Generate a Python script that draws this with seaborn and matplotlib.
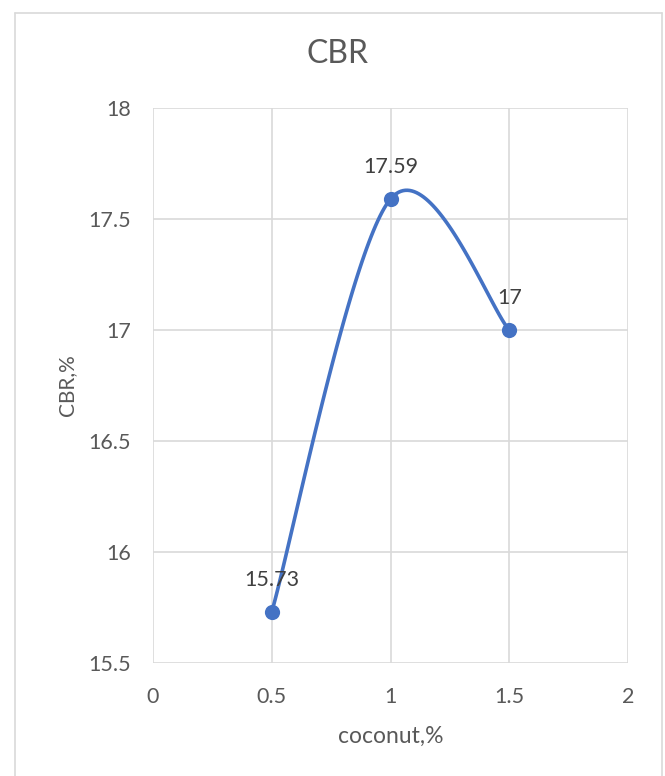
import numpy as np
import pandas as pd
import matplotlib
matplotlib.use("Agg")
import matplotlib.pyplot as plt
import seaborn as sns
from matplotlib.lines import Line2D

# ---- data ----
coconut = [0.5, 1.0, 1.5]
cbr = [15.73, 17.59, 17.0]
labels = ["15.73", "17.59", "17"]
x_ticks = [0, 0.5, 1, 1.5, 2]
x_tick_labels = ["0", "0.5", "1", "1.5", "2"]
y_ticks = [15.5, 16, 16.5, 17, 17.5, 18]
y_tick_labels = ["15.5", "16", "16.5", "17", "17.5", "18"]

LINE = "#4472C4"
GRID = "#D9D9D9"
TXT = "#595959"

sns.set_theme(style="white")
plt.rcParams["font.family"] = ["Lato", "DejaVu Sans"]

# Excel-style smoothing (cardinal Bezier through the points)
def excel_smooth(xs, ys, n=60):
    P = np.column_stack([xs, ys]).astype(float)
    out = []
    for i in range(len(P) - 1):
        p0 = P[i - 1] if i > 0 else P[i]
        p1, p2 = P[i], P[i + 1]
        p3 = P[i + 2] if i + 2 < len(P) else P[i + 1]
        c1 = p1 + (p2 - p0) / 6.0
        c2 = p2 - (p3 - p1) / 6.0
        t = np.linspace(0, 1, n)[:, None]
        seg = ((1 - t) ** 3) * p1 + 3 * ((1 - t) ** 2) * t * c1 + 3 * (1 - t) * t ** 2 * c2 + t ** 3 * p2
        out.append(seg if i == 0 else seg[1:])
    return np.vstack(out)

curve = excel_smooth(coconut, cbr)
curve_df = pd.DataFrame({"x": curve[:, 0], "y": curve[:, 1], "order": np.arange(len(curve))})
pts_df = pd.DataFrame({"coconut": coconut, "cbr": cbr})

fig = plt.figure(figsize=(6.65, 7.76), dpi=100)
ax = fig.add_axes([153 / 665, 1 - 663 / 776, (628 - 153) / 665, (663 - 108) / 776])

sns.lineplot(data=curve_df, x="x", y="y", sort=False, ax=ax, color=LINE, linewidth=2.6, zorder=3)
sns.scatterplot(data=pts_df, x="coconut", y="cbr", ax=ax, color=LINE, s=120, edgecolor=LINE, linewidth=0, zorder=4)

for xv, yv, lab in zip(coconut, cbr, labels):
    ax.annotate(lab, (xv, yv), xytext=(0, 23), textcoords="offset points", ha="center", va="center",
                fontsize=15.5, color="#404040")

ax.set_xlim(0, 2)
ax.set_ylim(15.5, 18)
ax.set_xticks(x_ticks)
ax.set_xticklabels(x_tick_labels)
ax.set_yticks(y_ticks)
ax.set_yticklabels(y_tick_labels)
ax.grid(True, color=GRID, linewidth=1.2)
ax.set_axisbelow(True)
for s in ax.spines.values():
    s.set_visible(False)
ax.tick_params(axis="both", length=0, labelsize=15.5, labelcolor=TXT)
ax.tick_params(axis="x", pad=17)
ax.tick_params(axis="y", pad=16)
ax.set_xlabel("coconut,%", fontsize=16.5, color=TXT, labelpad=14)
ax.set_ylabel("CBR,%", fontsize=15, color=TXT, labelpad=8)

fig.text(338 / 665, 1 - 54 / 776, "CBR", ha="center", va="center", fontsize=23, color=TXT)

# chart border
border_kw = dict(color=GRID, linewidth=1.2, transform=fig.transFigure)
fig.add_artist(Line2D([15 / 665, 15 / 665], [0, 1 - 13 / 776], **border_kw))
fig.add_artist(Line2D([15 / 665, 662 / 665], [1 - 13 / 776, 1 - 13 / 776], **border_kw))
fig.add_artist(Line2D([662 / 665, 662 / 665], [0, 1 - 13 / 776], **border_kw))

fig.savefig("out.png", dpi=100)
